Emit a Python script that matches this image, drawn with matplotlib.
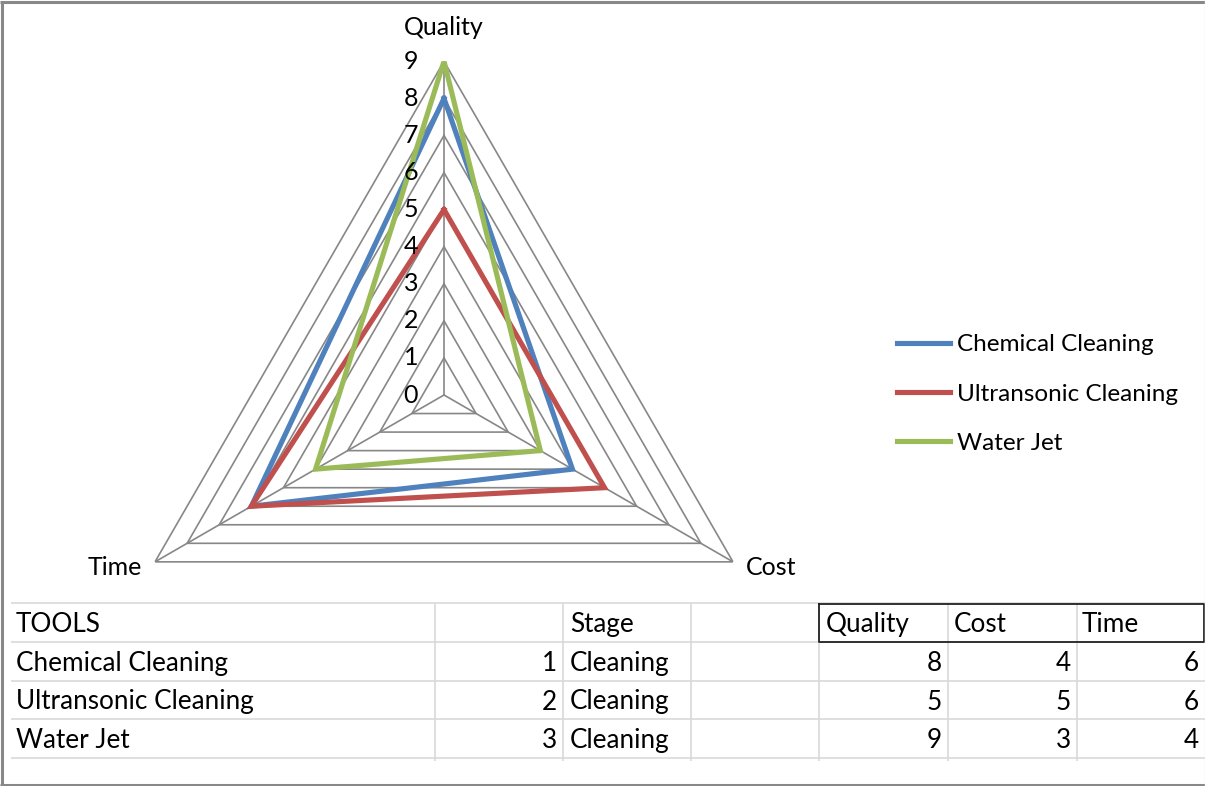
import numpy as np
import matplotlib
matplotlib.use("Agg")
import matplotlib.pyplot as plt
from matplotlib.lines import Line2D

plt.rcParams['font.family'] = ['Lato', 'DejaVu Sans']

# ---------------- data ----------------
categories = ["Quality", "Cost", "Time"]
series_names = ["Chemical Cleaning", "Ultransonic Cleaning", "Water Jet"]
quality = [8, 5, 9]
cost = [4, 5, 3]
time_vals = [6, 6, 4]
tool_ids = [1, 2, 3]
stages = ["Cleaning", "Cleaning", "Cleaning"]
radial_ticks = [0, 1, 2, 3, 4, 5, 6, 7, 8, 9]
colors = ["#4F81BD", "#C0504D", "#9BBB59"]

W, H = 1205, 786
fig = plt.figure(figsize=(W / 100, H / 100), dpi=100)

# ---------------- background axes (pixel coordinates) for table & border ----------------
bg = fig.add_axes([0, 0, 1, 1])
bg.set_xlim(0, W)
bg.set_ylim(H, 0)
bg.axis("off")

grid_c = "#D9D9D9"
row_lines = [603, 642, 681, 719, 758]
col_lines = [435, 563, 691, 819, 948, 1077]
for y in row_lines:
    bg.plot([11, W], [y, y], color=grid_c, lw=1.2, solid_capstyle="butt")
for x in col_lines:
    bg.plot([x, x], [603, 761], color=grid_c, lw=1.2, solid_capstyle="butt")
# black box around header
bg.plot([819, 1204, 1204, 819, 819], [604, 604, 642, 642, 604], color="#222222", lw=1.3)

tfs = 18.8
row_base = [632, 671, 709.5, 748]
bg.text(16, row_base[0], "TOOLS", fontsize=tfs, va="baseline", ha="left")
bg.text(570, row_base[0], "Stage", fontsize=tfs, va="baseline", ha="left")
for x, lab in zip([826, 954, 1082], categories):
    bg.text(x, row_base[0], lab, fontsize=tfs, va="baseline", ha="left")
for i in range(3):
    y = row_base[i + 1]
    bg.text(16, y, series_names[i], fontsize=tfs, va="baseline", ha="left")
    bg.text(557, y, str(tool_ids[i]), fontsize=tfs, va="baseline", ha="right")
    bg.text(570, y, stages[i], fontsize=tfs, va="baseline", ha="left")
    bg.text(942, y, str(quality[i]), fontsize=tfs, va="baseline", ha="right")
    bg.text(1071, y, str(cost[i]), fontsize=tfs, va="baseline", ha="right")
    bg.text(1199, y, str(time_vals[i]), fontsize=tfs, va="baseline", ha="right")

# border
bc = "#888888"
bg.plot([1.5, 1.5], [1, 785], color=bc, lw=2.2, solid_capstyle="butt")
bg.plot([0, W], [2, 2], color=bc, lw=2.2, solid_capstyle="butt")
bg.plot([0, W], [784.5, 784.5], color=bc, lw=2.2, solid_capstyle="butt")
bg.plot([1204.5, 1204.5], [1, 785], color="#EEEEEE", lw=1)

# ---------------- radar (polar) ----------------
cx, cy, R = 444, 395, 333.7
ax = fig.add_axes([(cx - R) / W, 1 - (cy + R) / H, 2 * R / W, 2 * R / H],
                  projection="polar")
ax.set_theta_offset(np.pi / 2)
ax.set_theta_direction(-1)
ax.set_facecolor("none")
ax.grid(False)
ax.spines["polar"].set_visible(False)
ax.set_xticks([])
ax.set_yticks([])
ax.set_ylim(0, max(radial_ticks))

n = len(categories)
theta = np.arange(n) * 2 * np.pi / n
theta_closed = np.append(theta, theta[0])

gc = "#878787"
for r in radial_ticks[1:]:
    ax.plot(theta_closed, [r] * (n + 1), color=gc, lw=1.2, zorder=1)
for t in theta:
    ax.plot([t, t], [0, max(radial_ticks)], color=gc, lw=1.2, zorder=1)

data = [[quality[i], cost[i], time_vals[i]] for i in range(3)]
for vals, c, name in zip(data, colors, series_names):
    v = list(vals) + [vals[0]]
    ax.plot(theta_closed, v, color=c, lw=3.7, label=name, zorder=3,
            solid_joinstyle="miter")

for r in radial_ticks:
    ax.annotate(str(r), xy=(0, r), xytext=(-26, 0), textcoords="offset pixels",
                ha="right", va="center", fontsize=18)

offsets = [((0, 34), "center"), ((13, -6), "left"), ((-13, -6), "right")]
for t, lab, (off, ha) in zip(theta, categories, offsets):
    ax.annotate(lab, xy=(t, max(radial_ticks)), xytext=off, textcoords="offset pixels",
                ha=ha, va="center", fontsize=18)

handles = [Line2D([0], [0], color=c, lw=3.7) for c in colors]
fig.legend(handles, series_names, loc="center left",
           bbox_to_anchor=(897 / W, 1 - 394 / H), frameon=False,
           fontsize=17.5, handlelength=2.18, handletextpad=0.29, labelspacing=1.17,
           borderpad=0, borderaxespad=0)

fig.savefig("out.png", dpi=100)
